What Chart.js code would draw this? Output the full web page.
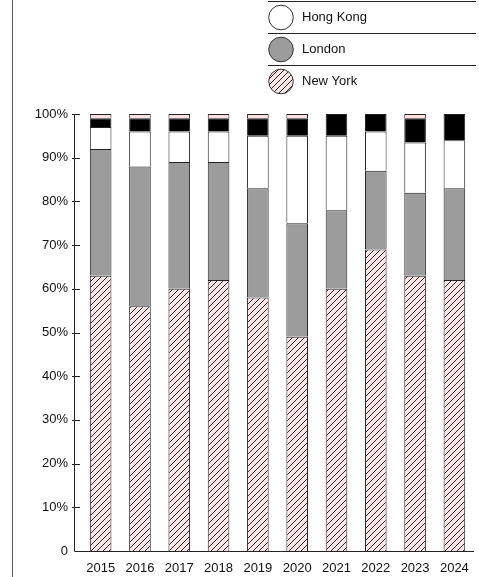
<!DOCTYPE html>
<html>
<head>
<meta charset="utf-8">
<script src="https://cdn.jsdelivr.net/npm/chart.js@4.4.1/dist/chart.umd.min.js"></script>
<style>
  html, body { margin: 0; padding: 0; background: #fff; }
  #wrap { position: relative; width: 479px; height: 577px; }
  #edge { position: absolute; left: 12px; top: 0; width: 1px; height: 577px; background: #555; }
</style>
</head>
<body>
<div id="wrap">
  <div id="edge"></div>
  <canvas id="cityChart" width="479" height="577"></canvas>
</div>
<script>
const years = ['2015', '2016', '2017', '2018', '2019', '2020', '2021', '2022', '2023', '2024'];
const newYork  = [63, 56, 60, 62, 58, 49, 60, 69, 63, 62];
const london   = [29, 32, 29, 27, 25, 26, 18, 18, 19, 21];
const hongKong = [5, 8, 7, 7, 12, 20, 17, 9, 11.5, 11];
const others   = [2, 3, 3, 3, 4, 4, 5, 4, 5.5, 6];
const rest     = [1, 1, 1, 1, 1, 1, 0, 0, 1, 0];
const yTicks = [0, 10, 20, 30, 40, 50, 60, 70, 80, 90, 100];
const legendNames = ['Hong Kong', 'London', 'New York'];

const FONT = '"Liberation Sans", Arial, sans-serif';
Chart.defaults.font.family = FONT;
Chart.defaults.color = '#111';

// pink hatch fill for New York
function hatch() {
    const n = 6;
    const c = document.createElement('canvas');
    c.width = c.height = n;
    const g = c.getContext('2d');
    g.fillStyle = '#fde5e5';
    g.fillRect(0, 0, n, n);
    g.strokeStyle = '#2a2a2a';
    g.lineWidth = 1;
    g.beginPath();
    g.moveTo(0, n); g.lineTo(n, 0);
    g.moveTo(-1, 1); g.lineTo(1, -1);
    g.moveTo(n - 1, n + 1); g.lineTo(n + 1, n - 1);
    g.stroke();
    return g.createPattern(c, 'repeat');
}
const nyFill = hatch();

const ctx = document.getElementById('cityChart').getContext('2d');

const barStyle = { borderColor: '#222', borderWidth: 1, barPercentage: 0.55, categoryPercentage: 1 };
const AXIS_X = 74; // axis line sits a little left of the first category

// axis lines and inside tick marks
const axes = {
    id: 'axes',
    afterDraw(chart) {
        const y = chart.scales.y, area = chart.chartArea, c = chart.ctx;
        const ax = AXIS_X + 0.5;
        const yTop = Math.round(y.getPixelForValue(100));
        const yBot = Math.round(y.getPixelForValue(0)) + 0.5;
        c.save();
        c.strokeStyle = '#222';
        c.lineWidth = 1;
        c.beginPath();
        c.moveTo(ax, yTop);
        c.lineTo(ax, yBot);
        c.lineTo(area.right, yBot);
        c.stroke();
        yTicks.forEach(v => {
            if (v === 0) return;
            const py = Math.round(y.getPixelForValue(v)) + 0.5;
            c.beginPath();
            c.moveTo(AXIS_X - 2, py);
            c.lineTo(AXIS_X + 6, py);
            c.stroke();
        });
        c.restore();
    }
};

// legend at top right with rule lines
const topLegend = {
    id: 'topLegend',
    afterDraw(chart) {
        const c = chart.ctx;
        const x0 = 268, x1 = 476, rowH = 32, top = 1;
        c.save();
        legendNames.forEach((name, i) => {
            const ds = chart.data.datasets.find(d => d.label === name);
            const ly = top + i * rowH + 0.5;
            c.strokeStyle = '#222';
            c.lineWidth = 1;
            c.beginPath();
            c.moveTo(x0, ly);
            c.lineTo(x1, ly);
            c.stroke();
            const cy = ly + 16;
            c.beginPath();
            c.arc(281, cy, 12.3, 0, Math.PI * 2);
            c.fillStyle = ds.backgroundColor;
            c.fill();
            c.strokeStyle = '#333';
            c.stroke();
            c.fillStyle = '#111';
            c.font = '13px ' + FONT;
            c.textBaseline = 'middle';
            c.fillText(name, 302, cy);
        });
        c.restore();
    }
};

new Chart(ctx, {
    type: 'bar',
    data: {
        labels: years,
        datasets: [
            { label: 'New York', data: newYork, backgroundColor: nyFill, ...barStyle },
            { label: 'London', data: london, backgroundColor: '#9c9c9c', ...barStyle },
            { label: 'Hong Kong', data: hongKong, backgroundColor: '#ffffff', ...barStyle },
            { label: 'Others', data: others, backgroundColor: '#000000', ...barStyle },
            { label: 'Rest', data: rest, backgroundColor: '#fde0e0', ...barStyle }
        ]
    },
    options: {
        responsive: false,
        animation: false,
        layout: { padding: { left: 0, right: 3, top: 114, bottom: 0 } },
        plugins: {
            legend: { display: false },
            tooltip: { enabled: false }
        },
        scales: {
            x: {
                stacked: true,
                grid: { display: false, drawTicks: false },
                border: { display: false },
                ticks: { padding: 10, font: { size: 13 }, color: '#111', maxRotation: 0 },
                afterFit: s => { s.height = 26; }
            },
            y: {
                stacked: true,
                min: 0,
                max: 100,
                grid: { display: false, drawTicks: false },
                border: { display: false },
                afterBuildTicks: s => { s.ticks = yTicks.map(v => ({ value: v })); },
                ticks: {
                    padding: 13,
                    font: { size: 13 },
                    color: '#111',
                    callback: v => v === 0 ? '0' : v + '%'
                },
                afterFit: s => { s.width = 81; }
            }
        }
    },
    plugins: [axes, topLegend]
});
</script>
</body>
</html>
